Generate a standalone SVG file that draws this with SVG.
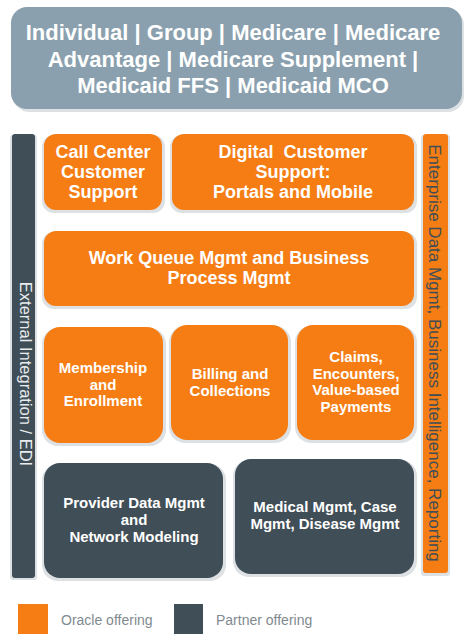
<svg xmlns="http://www.w3.org/2000/svg" width="474" height="642" viewBox="0 0 474 642">
<style>
.or{fill:#f57d14;}
.dk{fill:#3f4e57;}
.sh{fill:#dde1e4;}
.t{font-family:"Liberation Sans",Arial,sans-serif;font-weight:bold;fill:#ffffff;text-anchor:middle;}
.lg{font-family:"Liberation Sans",Arial,sans-serif;font-size:14px;fill:#7f8a90;}
</style>
<rect width="474" height="642" fill="#ffffff"/>
<g id="segments">
<rect x="13" y="9" width="451" height="103" rx="16" class="sh"/>
<rect x="11" y="7" width="451" height="102" rx="16" fill="#8aa0ae"/>
<text class="t" font-size="22"><tspan x="233" y="40">Individual | Group | Medicare | Medicare</tspan><tspan x="233" y="67">Advantage | Medicare Supplement |</tspan><tspan x="233" y="93">Medicaid FFS | Medicaid MCO</tspan></text>
</g>
<g id="external-integration">
<rect x="10" y="135" width="27" height="445" rx="3" class="sh"/>
<rect x="12" y="134" width="23" height="444" rx="3" class="dk"/>
<text transform="translate(19.5,374) rotate(90)" font-family="'Liberation Sans',Arial,sans-serif" font-size="16.5" fill="#e9ecee" text-anchor="middle">External Integration / EDI</text>
</g>
<g id="enterprise-data">
<rect x="421" y="135" width="29" height="441" rx="3" class="sh"/>
<rect x="423" y="134" width="25" height="439" rx="3" class="or"/>
<text transform="translate(429,353) rotate(90)" font-family="'Liberation Sans',Arial,sans-serif" font-size="17" fill="#3f4e57" text-anchor="middle">Enterprise Data Mgmt, Business Intelligence, Reporting</text>
</g>
<g id="call-center">
<rect x="42" y="135" width="123" height="78" rx="12" class="sh"/>
<rect x="44" y="134" width="118" height="76" rx="12" class="or"/>
<text class="t" font-size="18"><tspan x="103" y="158">Call Center</tspan><tspan x="103" y="178">Customer</tspan><tspan x="103" y="198">Support</tspan></text>
</g>
<g id="digital-support">
<rect x="170" y="135" width="247" height="78" rx="12" class="sh"/>
<rect x="172" y="134" width="242" height="76" rx="12" class="or"/>
<text class="t" font-size="18"><tspan x="293" y="158">Digital&#160; Customer</tspan><tspan x="293" y="178">Support:</tspan><tspan x="293" y="198">Portals and Mobile</tspan></text>
</g>
<g id="work-queue">
<rect x="42" y="232" width="375" height="77" rx="12" class="sh"/>
<rect x="44" y="231" width="370" height="75" rx="12" class="or"/>
<text class="t" font-size="18"><tspan x="229" y="264">Work Queue Mgmt and Business</tspan><tspan x="229" y="284">Process Mgmt</tspan></text>
</g>
<g id="membership">
<rect x="42" y="328" width="124" height="118" rx="16" class="sh"/>
<rect x="44" y="327" width="119" height="116" rx="16" class="or"/>
<text class="t" font-size="15"><tspan x="103" y="373">Membership</tspan><tspan x="103" y="389.5">and</tspan><tspan x="103" y="406">Enrollment</tspan></text>
</g>
<g id="billing">
<rect x="169" y="326" width="122" height="117" rx="16" class="sh"/>
<rect x="171" y="325" width="117" height="115" rx="16" class="or"/>
<text class="t" font-size="15"><tspan x="230" y="379">Billing and</tspan><tspan x="230" y="395.5">Collections</tspan></text>
</g>
<g id="claims">
<rect x="295" y="326" width="122" height="117" rx="16" class="sh"/>
<rect x="297" y="325" width="117" height="115" rx="16" class="or"/>
<text class="t" font-size="15"><tspan x="356" y="362">Claims,</tspan><tspan x="356" y="378.5">Encounters,</tspan><tspan x="356" y="395">Value-based</tspan><tspan x="356" y="411.5">Payments</tspan></text>
</g>
<g id="provider-data">
<rect x="42" y="464" width="184" height="117" rx="16" class="sh"/>
<rect x="44" y="463" width="179" height="115" rx="16" class="dk"/>
<text class="t" font-size="15"><tspan x="134" y="508">Provider Data Mgmt</tspan><tspan x="134" y="525">and</tspan><tspan x="134" y="542">Network Modeling</tspan></text>
</g>
<g id="medical-mgmt">
<rect x="233" y="460" width="184" height="117" rx="16" class="sh"/>
<rect x="235" y="459" width="179" height="115" rx="16" class="dk"/>
<text class="t" font-size="15"><tspan x="325" y="512">Medical Mgmt, Case</tspan><tspan x="325" y="529">Mgmt, Disease Mgmt</tspan></text>
</g>
<g id="legend">
<rect x="18" y="604" width="30" height="30" class="or"/>
<text x="61" y="625" class="lg">Oracle offering</text>
<rect x="174" y="604" width="29" height="30" class="dk"/>
<text x="216" y="625" class="lg">Partner offering</text>
</g>
<g id="connectors"></g>
</svg>
